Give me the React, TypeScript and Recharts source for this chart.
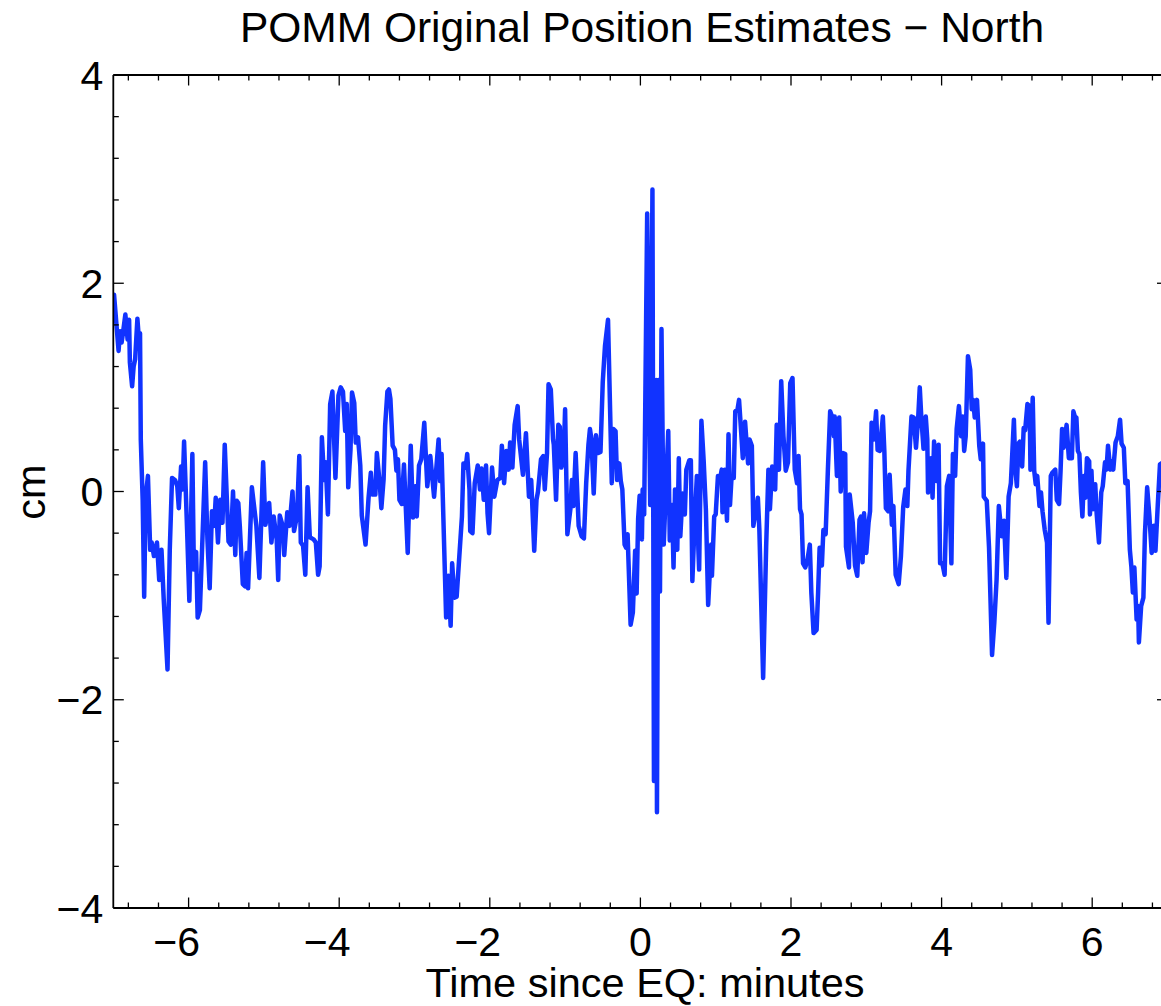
import React from "react";
import { LineChart, Line, XAxis, YAxis } from "recharts";

const FONT = '"Liberation Sans", Arial, Helvetica, sans-serif';

const titleText = "POMM Original Position Estimates \u2212 North";
const xLabelText = "Time since EQ: minutes";
const yLabelText = "cm";

const xTicks = [
  -6.8, -6.4, -6, -5.6, -5.2, -4.8, -4.4, -4, -3.6, -3.2, -2.8, -2.4, -2, -1.6, -1.2, -0.8, -0.4,
  0, 0.4, 0.8, 1.2, 1.6, 2, 2.4, 2.8, 3.2, 3.6, 4, 4.4, 4.8, 5.2, 5.6, 6, 6.4, 6.8,
];
const yTicks = [
  -4, -3.6, -3.2, -2.8, -2.4, -2, -1.6, -1.2, -0.8, -0.4, 0, 0.4, 0.8, 1.2, 1.6, 2, 2.4, 2.8, 3.2,
  3.6, 4,
];

const timeMin = [
  -6.99, -6.93, -6.91, -6.89, -6.87, -6.84, -6.81, -6.79, -6.78, -6.75,
  -6.73, -6.71, -6.68, -6.66, -6.645, -6.635, -6.61, -6.59, -6.57, -6.54,
  -6.51, -6.49, -6.46, -6.42, -6.39, -6.36, -6.33, -6.28, -6.25, -6.22,
  -6.18, -6.15, -6.13, -6.1, -6.08, -6.06, -6.04, -6.02, -5.99, -5.95,
  -5.93, -5.9, -5.88, -5.85, -5.78, -5.75, -5.72, -5.69, -5.66, -5.64,
  -5.61, -5.58, -5.55, -5.52, -5.47, -5.44, -5.41, -5.38, -5.36, -5.34,
  -5.32, -5.28, -5.25, -5.23, -5.21, -5.16, -5.1, -5.06, -5.01, -4.98,
  -4.93, -4.9, -4.87, -4.83, -4.81, -4.79, -4.75, -4.73, -4.69, -4.66,
  -4.62, -4.6, -4.56, -4.53, -4.51, -4.48, -4.45, -4.42, -4.39, -4.34,
  -4.31, -4.28, -4.26, -4.23, -4.2, -4.18, -4.15, -4.12, -4.09, -4.05,
  -4.01, -3.98, -3.95, -3.92, -3.9, -3.88, -3.85, -3.83, -3.8, -3.78,
  -3.75, -3.72, -3.7, -3.65, -3.61, -3.58, -3.56, -3.52, -3.5, -3.46,
  -3.44, -3.41, -3.39, -3.36, -3.34, -3.32, -3.29, -3.26, -3.24, -3.22,
  -3.2, -3.17, -3.14, -3.09, -3.05, -3.02, -2.99, -2.97, -2.94, -2.91,
  -2.87, -2.83, -2.79, -2.74, -2.68, -2.66, -2.64, -2.58, -2.55, -2.52,
  -2.5, -2.47, -2.44, -2.37, -2.35, -2.32, -2.3, -2.27, -2.26, -2.23,
  -2.2, -2.16, -2.13, -2.11, -2.08, -2.05, -2.03, -2.01, -1.97, -1.94,
  -1.9, -1.86, -1.84, -1.81, -1.78, -1.75, -1.73, -1.7, -1.67, -1.63,
  -1.61, -1.56, -1.52, -1.48, -1.45, -1.41, -1.38, -1.36, -1.32, -1.29,
  -1.27, -1.24, -1.22, -1.19, -1.16, -1.15, -1.12, -1.09, -1.07, -1.05,
  -1.02, -1.0, -0.97, -0.93, -0.91, -0.89, -0.86, -0.82, -0.78, -0.75,
  -0.72, -0.69, -0.67, -0.65, -0.62, -0.59, -0.56, -0.53, -0.5, -0.47,
  -0.43, -0.38, -0.36, -0.33, -0.31, -0.28, -0.26, -0.24, -0.21, -0.19,
  -0.17, -0.13, -0.1, -0.07, -0.05, -0.03, -0.01, 0.02, 0.03, 0.05,
  0.09, 0.13, 0.16, 0.18, 0.21, 0.22, 0.24, 0.26, 0.28, 0.31,
  0.33, 0.37, 0.39, 0.42, 0.44, 0.46, 0.49, 0.51, 0.53, 0.56,
  0.59, 0.61, 0.65, 0.67, 0.69, 0.72, 0.75, 0.77, 0.78, 0.81,
  0.84, 0.87, 0.9, 0.94, 0.95, 0.98, 1.0, 1.03, 1.06, 1.08,
  1.09, 1.12, 1.15, 1.17, 1.19, 1.21, 1.24, 1.26, 1.29, 1.31,
  1.34, 1.36, 1.39, 1.43, 1.45, 1.48, 1.5, 1.52, 1.56, 1.58,
  1.63, 1.67, 1.7, 1.72, 1.75, 1.79, 1.81, 1.84, 1.87, 1.9,
  1.93, 1.96, 1.99, 2.02, 2.05, 2.08, 2.1, 2.12, 2.14, 2.16,
  2.19, 2.22, 2.25, 2.27, 2.3, 2.34, 2.36, 2.38, 2.41, 2.43,
  2.46, 2.49, 2.52, 2.55, 2.57, 2.58, 2.61, 2.64, 2.66, 2.69,
  2.72, 2.73, 2.77, 2.78, 2.82, 2.85, 2.88, 2.91, 2.93, 2.95,
  2.97, 3.0, 3.03, 3.05, 3.07, 3.1, 3.13, 3.15, 3.18, 3.22,
  3.24, 3.26, 3.29, 3.31, 3.34, 3.36, 3.39, 3.43, 3.46, 3.49,
  3.52, 3.545, 3.56, 3.6, 3.63, 3.66, 3.69, 3.71, 3.73, 3.76,
  3.79, 3.81, 3.82, 3.86, 3.88, 3.9, 3.93, 3.96, 3.98, 4.01,
  4.04, 4.07, 4.1, 4.13, 4.15, 4.18, 4.2, 4.23, 4.26, 4.28,
  4.3, 4.32, 4.35, 4.38, 4.4, 4.42, 4.44, 4.47, 4.5, 4.52,
  4.55, 4.56, 4.6, 4.63, 4.67, 4.7, 4.73, 4.76, 4.8, 4.83,
  4.86, 4.89, 4.92, 4.96, 4.98, 5.0, 5.02, 5.04, 5.07, 5.09,
  5.11, 5.14, 5.17, 5.18, 5.21, 5.23, 5.25, 5.27, 5.3, 5.32,
  5.34, 5.37, 5.4, 5.42, 5.45, 5.47, 5.51, 5.53, 5.56, 5.58,
  5.6, 5.62, 5.66, 5.69, 5.73, 5.75, 5.77, 5.79, 5.81, 5.83,
  5.85, 5.87, 5.89, 5.91, 5.93, 5.96, 5.97, 5.99, 6.01, 6.04,
  6.06, 6.09, 6.12, 6.14, 6.17, 6.19, 6.21, 6.24, 6.26, 6.28,
  6.31, 6.34, 6.37, 6.39, 6.42, 6.44, 6.47, 6.5, 6.52, 6.54,
  6.56, 6.59, 6.61, 6.62, 6.65, 6.68, 6.7, 6.73, 6.76, 6.79,
  6.82, 6.84, 6.87, 6.9, 6.98,
];

const northCm = [
  1.89, 1.35, 1.54, 1.43, 1.53, 1.7, 1.46, 1.65, 1.24, 1.01,
  1.2, 1.27, 1.66, 1.46, 1.52, 0.5, -0.08, -1.01, -0.05, 0.15,
  -0.56, -0.49, -0.62, -0.49, -0.85, -0.56, -1.04, -1.71, -0.56, 0.13,
  0.11, 0.05, -0.16, 0.24, 0.02, 0.48, 0.06, -0.37, -1.05, 0.36,
  -0.75, -0.58, -1.21, -1.14, 0.28, -0.46, -0.93, -0.19, -0.33, -0.06,
  -0.49, -0.08, -0.3, 0.45, -0.48, -0.51, 0.0, -0.61, -0.09, -0.11,
  -0.33, -0.89, -0.91, -0.59, -0.93, 0.04, -0.33, -0.83, 0.28, -0.32,
  -0.11, -0.49, -0.24, -0.46, -0.85, -0.23, -0.33, -0.61, -0.2, -0.33,
  0.0, -0.38, -0.23, 0.34, -0.49, -0.52, -0.8, 0.04, -0.44, -0.46,
  -0.49, -0.8, -0.72, 0.52, 0.11, 0.28, -0.22, 0.84, 0.96, 0.13,
  0.92, 1.0, 0.96, 0.58, 0.84, 0.04, 0.4, 0.95, 0.85, 0.47,
  0.52, 0.25, -0.23, -0.51, -0.06, 0.18, -0.03, -0.03, 0.37, 0.06,
  -0.16, 0.12, 0.63, 0.96, 0.98, 0.89, 0.44, 0.4, 0.2, 0.31,
  -0.08, -0.12, 0.26, -0.59, 0.44, -0.25, 0.05, -0.24, 0.25, 0.31,
  0.66, 0.05, 0.34, -0.05, 0.5, 0.1, 0.36, -1.21, -0.81, -1.29,
  -0.69, -1.02, -1.01, -0.24, 0.27, 0.23, 0.36, 0.02, -0.38, -0.4,
  0.08, 0.25, 0.02, 0.22, -0.08, 0.25, -0.21, -0.4, 0.23, -0.05,
  0.11, 0.13, 0.44, 0.08, 0.39, 0.21, 0.47, 0.23, 0.64, 0.82,
  0.5, 0.16, 0.56, -0.05, 0.11, -0.57, -0.08, 0.0, 0.31, 0.34,
  0.02, 0.37, 1.03, 0.98, 0.5, 0.45, -0.08, 0.64, 0.62, 0.23,
  0.31, 0.79, -0.41, -0.17, 0.11, -0.14, 0.37, -0.33, -0.43, -0.45,
  0.08, 0.45, 0.6, 0.5, -0.02, 0.54, 0.37, 0.38, 1.05, 1.4,
  1.65, 0.08, 0.6, 0.58, 0.11, 0.27, 0.1, 0.02, -0.51, -0.54,
  -0.41, -1.28, -1.16, -0.57, -0.98, -0.26, -0.04, -0.46, 0.02, -0.22,
  2.67, -0.13, 2.9, -2.78, 1.07, -3.08, 1.07, -0.96, 1.56, -0.51,
  -0.13, 0.58, -0.47, -0.13, -0.73, 0.02, -0.56, 0.32, -0.43, -0.02,
  -0.22, 0.21, 0.3, 0.3, -0.86, -0.3, 0.15, -0.56, -0.75, 0.68,
  0.3, -0.18, -1.09, -0.51, -0.81, -0.24, -0.22, 0.15, 0.13, 0.21,
  -0.2, 0.21, -0.28, 0.55, -0.13, 0.13, 0.13, 0.77, 0.79, 0.88,
  0.55, 0.32, 0.67, 0.27, 0.5, 0.44, -0.33, -0.24, -0.06, -0.37,
  -1.79, -0.53, 0.21, -0.17, 0.24, 0.02, 0.64, 0.21, 1.06, 0.53,
  0.2, 0.28, 1.04, 1.09, 0.21, 0.08, 0.34, -0.17, -0.22, -0.69,
  -0.73, -0.65, -0.51, -0.97, -1.36, -1.33, -0.97, -0.54, -0.71, -0.37,
  -0.41, 0.21, 0.77, 0.71, 0.53, 0.72, 0.15, 0.71, 0.0, 0.37,
  0.36, -0.53, -0.73, -0.03, -0.3, -0.71, -0.81, -0.27, -0.24, -0.68,
  -0.21, -0.59, -0.3, -0.19, 0.66, 0.5, 0.77, 0.4, 0.39, 0.72,
  0.38, -0.16, -0.19, 0.16, -0.32, -0.14, -0.8, -0.89, -0.62, -0.15,
  0.02, -0.14, 0.2, 0.72, 0.71, 0.42, 0.72, 1.0, 0.72, 0.41,
  0.72, 0.5, -0.01, 0.32, -0.06, 0.48, 0.1, 0.45, -0.69, -0.69,
  -0.8, 0.05, 0.15, -0.69, 0.36, 0.15, 0.6, 0.82, 0.53, 0.72,
  0.39, 0.53, 1.3, 1.17, 0.79, 0.88, 0.71, 0.88, 0.44, 0.31,
  0.46, -0.05, -0.09, -0.54, -1.57, -1.26, -0.85, -0.14, -0.43, -0.28,
  -0.83, -0.05, 0.08, 0.69, 0.21, 0.05, 0.46, 0.48, 0.24, 0.61,
  0.59, 0.84, 0.82, 0.21, 0.9, 0.2, 0.07, 0.15, -0.14, -0.01,
  -0.19, -0.37, -0.49, -1.26, 0.15, 0.18, 0.21, -0.08, -0.12, 0.2,
  0.6, 0.42, 0.64, 0.32, 0.32, 0.77, 0.72, 0.71, 0.39, 0.36,
  -0.01, -0.24, 0.15, -0.06, 0.32, 0.29, -0.22, 0.2, -0.17, 0.07,
  -0.22, -0.49, -0.01, 0.05, 0.28, 0.21, 0.44, 0.21, 0.29, 0.21,
  0.47, 0.53, 0.69, 0.46, 0.42, 0.08, 0.1, -0.56, -0.72, -0.97,
  -0.73, -1.23, -1.1, -1.45, -1.1, -1.02, -0.41, 0.04, -0.24, -0.59,
  -0.33, -0.57, -0.14, 0.26, 0.3,
];

const n = Math.min(timeMin.length, northCm.length);
const data = timeMin.slice(0, n).map((t, i) => ({ t, v: northCm[i] }));

const isMajor = (v: number) => Math.abs(v / 2 - Math.round(v / 2)) < 1e-6;
const fmt = (v: number) => {
  const r = Math.round(v);
  return r < 0 ? "\u2212" + Math.abs(r) : String(r);
};

const MAJOR = 10.5;
const MINOR = 5.5;
const LABEL_SIZE = 41;
const TICK_W = 1.3;

const BottomTick = (props: any) => {
  const { x, y, payload } = props;
  const major = isMajor(payload.value);
  const neg = payload.value < 0;
  return (
    <g>
      <line x1={x} x2={x} y1={y} y2={y - (major ? MAJOR : MINOR)} stroke="#000" strokeWidth={TICK_W} />
      {major && (
        <text
          x={neg ? x - 12 : x}
          y={y + 48}
          textAnchor="middle"
          fontSize={LABEL_SIZE}
          fontFamily={FONT}
          fill="#000"
        >
          {fmt(payload.value)}
        </text>
      )}
    </g>
  );
};

const TopTick = (props: any) => {
  const { x, y, payload } = props;
  const major = isMajor(payload.value);
  return <line x1={x} x2={x} y1={y} y2={y + (major ? MAJOR : MINOR)} stroke="#000" strokeWidth={TICK_W} />;
};

const LeftTick = (props: any) => {
  const { x, y, payload } = props;
  const major = isMajor(payload.value);
  return (
    <g>
      <line x1={x} x2={x + (major ? MAJOR : MINOR)} y1={y} y2={y} stroke="#000" strokeWidth={TICK_W} />
      {major && (
        <text x={x - 10} y={y + 14.5} textAnchor="end" fontSize={LABEL_SIZE} fontFamily={FONT} fill="#000">
          {fmt(payload.value)}
        </text>
      )}
    </g>
  );
};

const RightTick = (props: any) => {
  const { x, y, payload } = props;
  const major = isMajor(payload.value);
  return <line x1={x} x2={x - (major ? MAJOR : MINOR)} y1={y} y2={y} stroke="#000" strokeWidth={TICK_W} />;
};

const axisLine = { stroke: "#000", strokeWidth: 1.8 };

export default function App() {
  return (
    <div
      style={{
        position: "absolute",
        left: 0,
        top: 0,
        width: 1161,
        height: 1006,
        overflow: "hidden",
        background: "#fff",
      }}
    >
      <LineChart
        width={1180}
        height={1006}
        data={data}
        margin={{ top: 65, right: 2.5, bottom: 38, left: 13.3 }}
      >
        <XAxis
          xAxisId="bottom"
          dataKey="t"
          type="number"
          domain={[-7, 7]}
          ticks={xTicks}
          interval={0}
          height={60}
          tickSize={0}
          tickMargin={0}
          tickLine={false}
          axisLine={axisLine}
          tick={BottomTick}
          allowDataOverflow
        />
        <XAxis
          xAxisId="top"
          orientation="top"
          dataKey="t"
          type="number"
          domain={[-7, 7]}
          ticks={xTicks}
          interval={0}
          height={10}
          tickSize={0}
          tickMargin={0}
          tickLine={false}
          axisLine={axisLine}
          tick={TopTick}
          allowDataOverflow
        />
        <YAxis
          yAxisId="left"
          type="number"
          domain={[-4, 4]}
          ticks={yTicks}
          interval={0}
          width={100}
          tickSize={0}
          tickMargin={0}
          tickLine={false}
          axisLine={axisLine}
          tick={LeftTick}
          allowDataOverflow
        />
        <YAxis
          yAxisId="right"
          orientation="right"
          type="number"
          domain={[-4, 4]}
          ticks={yTicks}
          interval={0}
          width={10}
          tickSize={0}
          tickMargin={0}
          tickLine={false}
          axisLine={axisLine}
          tick={RightTick}
          allowDataOverflow
        />
        <Line
          xAxisId="bottom"
          yAxisId="left"
          dataKey="v"
          type="linear"
          stroke="#1133ff"
          strokeWidth={4.5}
          strokeLinejoin="round"
          strokeLinecap="round"
          dot={false}
          activeDot={false}
          isAnimationActive={false}
        />
      </LineChart>
      <svg
        width={1161}
        height={1006}
        style={{ position: "absolute", left: 0, top: 0, pointerEvents: "none" }}
      >
        <text x={642} y={42} textAnchor="middle" fontSize={42.5} fontFamily={FONT} fill="#000">
          {titleText}
        </text>
        <text x={645} y={997} textAnchor="middle" fontSize={41.5} fontFamily={FONT} fill="#000">
          {xLabelText}
        </text>
        <text
          x={0}
          y={0}
          transform="translate(45 492) rotate(-90)"
          textAnchor="middle"
          fontSize={41.5}
          fontFamily={FONT}
          fill="#000"
        >
          {yLabelText}
        </text>
      </svg>
    </div>
  );
}
